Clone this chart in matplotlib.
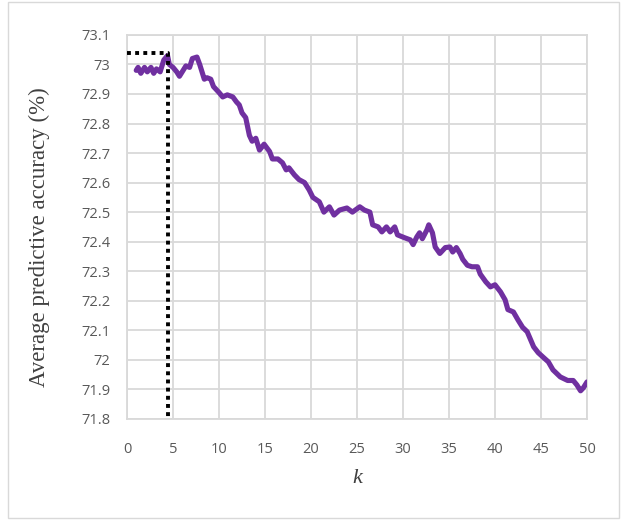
import matplotlib
matplotlib.use("Agg")
import matplotlib.pyplot as plt
from matplotlib.patches import Rectangle

# values
k_values = [1.0, 1.2, 1.5, 1.9, 2.2, 2.6, 2.9, 3.2, 3.6, 4.0, 4.4, 4.6, 5.0, 5.4, 5.7,
            6.0, 6.4, 6.8, 7.1, 7.6, 7.9, 8.2, 8.4, 8.7, 9.1, 9.4, 10.0, 10.4, 10.9,
            11.5, 11.9, 12.2, 12.5, 12.9, 13.3, 13.6, 14.0, 14.4, 14.9, 15.5, 15.8,
            16.4, 16.9, 17.3, 17.6, 18.2, 18.7, 19.3, 19.8, 20.2, 20.9, 21.4, 22.0,
            22.5, 23.1, 23.9, 24.5, 25.3, 25.8, 26.4, 26.7, 27.3, 27.7, 28.2, 28.6,
            29.1, 29.4, 30.2, 30.8, 31.1, 31.5, 31.8, 32.1, 32.6, 32.8, 33.2, 33.5,
            34.0, 34.6, 35.1, 35.4, 35.8, 36.2, 36.5, 37.0, 37.5, 38.1, 38.4, 39.0,
            39.5, 40.0, 40.6, 41.1, 41.4, 42.0, 42.5, 43.0, 43.5, 44.2, 44.7, 45.3,
            45.8, 46.3, 47.1, 47.9, 48.5, 48.9, 49.3, 49.6, 50.0]
accuracy = [72.98, 72.99, 72.97, 72.99, 72.975, 72.99, 72.97, 72.985, 72.975, 73.015,
            73.03, 73.00, 72.99, 72.975, 72.96, 72.975, 72.995, 72.99, 73.02, 73.025,
            73.00, 72.97, 72.95, 72.955, 72.95, 72.925, 72.905, 72.89, 72.897, 72.89,
            72.873, 72.863, 72.836, 72.82, 72.76, 72.74, 72.75, 72.71, 72.73, 72.705,
            72.68, 72.68, 72.667, 72.643, 72.65, 72.626, 72.61, 72.60, 72.575, 72.55,
            72.535, 72.50, 72.518, 72.49, 72.507, 72.514, 72.50, 72.518, 72.507, 72.50,
            72.457, 72.45, 72.433, 72.45, 72.433, 72.45, 72.423, 72.413, 72.406, 72.39,
            72.416, 72.43, 72.41, 72.44, 72.457, 72.43, 72.382, 72.36, 72.38, 72.382,
            72.365, 72.38, 72.36, 72.34, 72.32, 72.315, 72.315, 72.29, 72.264, 72.247,
            72.254, 72.23, 72.203, 72.17, 72.162, 72.135, 72.11, 72.095, 72.044, 72.024,
            72.007, 71.993, 71.966, 71.942, 71.93, 71.93, 71.915, 71.895, 71.905, 71.925]
best_k = 4.4
best_acc = 73.04

x_ticks = list(range(0, 51, 5))
y_ticks = [71.8, 71.9, 72.0, 72.1, 72.2, 72.3, 72.4, 72.5, 72.6, 72.7, 72.8, 72.9, 73.0, 73.1]
y_ticklabels = ["71.8", "71.9", "72", "72.1", "72.2", "72.3", "72.4", "72.5", "72.6",
                "72.7", "72.8", "72.9", "73", "73.1"]

fig = plt.figure(figsize=(6.27, 5.21), dpi=100)
# chart area border
fig.patches.append(Rectangle((0.012, 0.006), 0.976, 0.99, transform=fig.transFigure,
                             fill=False, edgecolor="#d9d9d9", lw=1.0))
ax = fig.add_axes([0.2026, 0.196, 0.7336, 0.737])

grid_col = "#d9d9d9"
ax.plot(k_values, accuracy, color="#7030a0", lw=3.7, solid_joinstyle="round",
        solid_capstyle="round", zorder=3)
ax.plot([0, best_k, best_k], [best_acc, best_acc, 71.8], color="black", lw=2.8,
        linestyle=(0, (1, 1.1)), zorder=4, clip_on=False)

ax.set_xlim(0, 50)
ax.set_ylim(71.8, 73.1)
ax.set_xticks(x_ticks)
ax.set_yticks(y_ticks)
ax.set_yticklabels(y_ticklabels)
ax.grid(True, color=grid_col, lw=1.3)
ax.set_axisbelow(True)
for s in ax.spines.values():
    s.set_color(grid_col)
    s.set_linewidth(1.3)
ax.tick_params(axis="both", length=0, colors="#595959", labelsize=10.5)
ax.tick_params(axis="x", pad=17)
ax.tick_params(axis="y", pad=12)
for lab in ax.get_xticklabels() + ax.get_yticklabels():
    lab.set_family("Open Sans")

ax.set_ylabel("Average predictive accuracy (%)", family="Liberation Serif",
              fontsize=16.5, color="#404040", va="center")
ax.yaxis.set_label_coords(-0.19, 0.474)
ax.set_xlabel("k", family="Liberation Serif", style="italic", fontsize=16,
              color="#404040", labelpad=8)

fig.savefig("out.png", dpi=100)
